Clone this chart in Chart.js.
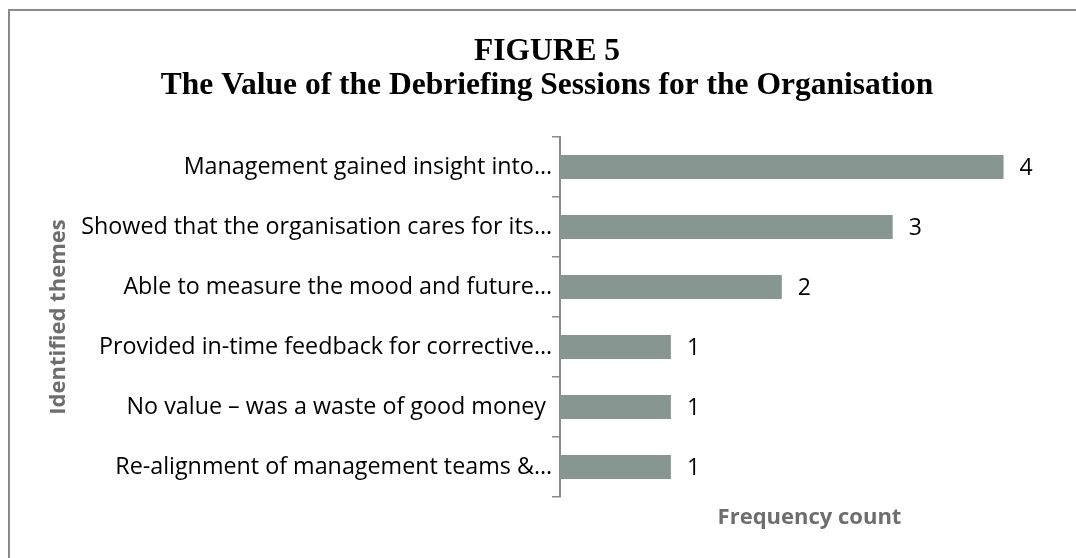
<!DOCTYPE html>
<html>
<head>
<meta charset="utf-8">
<script src="https://cdn.jsdelivr.net/npm/chart.js@4/dist/chart.umd.min.js"></script>
<style>
  html, body { margin: 0; padding: 0; background: #ffffff; overflow: hidden; width: 1076px; height: 558px; }
  #frame { position: absolute; left: 8px; top: 9px; right: -20px; bottom: -20px; border-left: 2px solid #8a8a8a; border-top: 2px solid #8a8a8a; }
  #wrap { position: absolute; left: 0; top: 0; width: 1094px; height: 558px; }
</style>
</head>
<body>
<div id="frame"></div>
<div id="wrap"><canvas id="c"></canvas></div>
<script>
const titleLines = ['FIGURE 5', 'The Value of the Debriefing Sessions for the Organisation'];
const categories = [
  'Management gained insight into\u2026',
  'Showed that the organisation cares for its\u2026',
  'Able to measure the mood and future\u2026',
  'Provided in-time feedback for corrective\u2026',
  'No value \u2013 was a waste of good money ',
  'Re-alignment of management teams &\u2026'
];
const frequencyCounts = [4, 3, 2, 1, 1, 1];
const xAxisTitle = 'Frequency count';
const yAxisTitle = 'Identified themes';

const valueLabels = {
  id: 'valueLabels',
  afterDatasetsDraw(chart) {
    const ctx = chart.ctx;
    const meta = chart.getDatasetMeta(0);
    const data = chart.data.datasets[0].data;
    ctx.save();
    ctx.font = '23px "Open Sans"';
    ctx.fillStyle = '#000000';
    ctx.textAlign = 'left';
    ctx.textBaseline = 'middle';
    meta.data.forEach((bar, i) => {
      ctx.fillText(String(data[i]), bar.x + 16, bar.y + 1);
    });
    ctx.restore();
  }
};

new Chart(document.getElementById('c'), {
  type: 'bar',
  data: {
    labels: categories,
    datasets: [{
      data: frequencyCounts,
      backgroundColor: '#879690',
      borderWidth: 0,
      categoryPercentage: 1,
      barPercentage: 0.4
    }]
  },
  options: {
    indexAxis: 'y',
    responsive: true,
    maintainAspectRatio: false,
    animation: false,
    layout: { padding: { left: 35, right: 35, top: 0, bottom: 0 } },
    plugins: {
      legend: { display: false },
      tooltip: { enabled: false },
      title: {
        display: true,
        text: titleLines,
        color: '#000000',
        font: { family: '"Liberation Serif", "Times New Roman", serif', size: 31.5, weight: 'bold', lineHeight: 1.073 },
        padding: { top: 35, bottom: 34.4 }
      }
    },
    scales: {
      x: {
        type: 'linear',
        min: 0,
        max: 4.5,
        grid: { display: false, drawTicks: false },
        border: { display: false },
        ticks: { display: false },
        title: {
          display: true,
          text: xAxisTitle,
          color: '#6e6e6e',
          font: { family: '"Open Sans"', size: 22, weight: 'bold' },
          padding: { top: 7.3, bottom: 27.3 }
        }
      },
      y: {
        type: 'category',
        grid: { display: true, drawOnChartArea: false, drawTicks: true, tickLength: 8, color: '#8a8a8a', lineWidth: 1.5, offset: true },
        border: { display: true, color: '#8a8a8a', width: 2 },
        ticks: { color: '#000000', font: { family: '"Open Sans"', size: 23.3 }, padding: 0, autoSkip: false },
        title: {
          display: true,
          text: yAxisTitle,
          color: '#6e6e6e',
          font: { family: '"Open Sans"', size: 22, weight: 'bold' },
          padding: { top: 11, bottom: 0 }
        },
        afterFit(scale) { scale.width = 525; }
      }
    }
  },
  plugins: [valueLabels]
});
</script>
</body>
</html>
